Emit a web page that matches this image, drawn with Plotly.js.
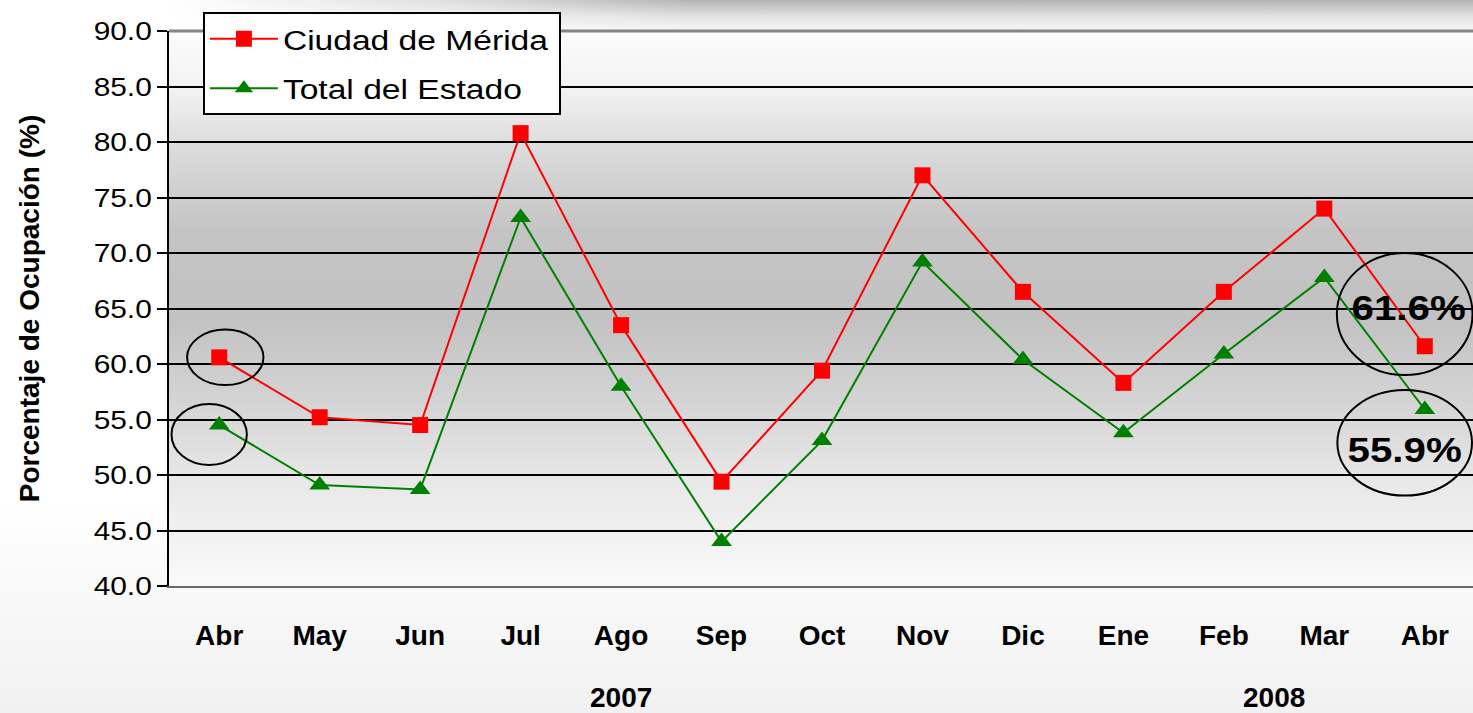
<!DOCTYPE html>
<html>
<head>
<meta charset="utf-8">
<script src="https://cdn.plot.ly/plotly-3.0.1.min.js"></script>
<style>
  html, body { margin: 0; padding: 0; }
  body { width: 1473px; height: 713px; overflow: hidden;
         background: linear-gradient(to bottom, #ffffff 0%, #ffffff 70%, #f1f1f1 100%); }
  #chart { width: 1473px; height: 713px; }
</style>
</head>
<body>
<div id="chart"></div>
<script>
// ---- data ----
const months = ['Abr', 'May', 'Jun', 'Jul', 'Ago', 'Sep', 'Oct', 'Nov', 'Dic', 'Ene', 'Feb', 'Mar', 'Abr'];
const merida = [60.6, 55.2, 54.5, 80.8, 63.5, 49.4, 59.4, 77.0, 66.5, 58.3, 66.5, 74.0, 61.6];
const estado = [54.5, 49.1, 48.7, 73.2, 58.0, 44.0, 53.1, 69.2, 60.4, 53.8, 60.9, 67.8, 55.9];
const seriesNames = ['Ciudad de Mérida', 'Total del Estado'];
const yearLabels = ['2007', '2008'];
const yTicks = [40, 45, 50, 55, 60, 65, 70, 75, 80, 85, 90];
const sourceText = 'Fuente: DataTur';

const xIdx = months.map((_, i) => i);
const last = months.length - 1;

function svgUri(svg) { return 'data:image/svg+xml;charset=utf-8,' + encodeURIComponent(svg); }

const plotGrad = svgUri(
  "<svg xmlns='http://www.w3.org/2000/svg' width='100' height='100' viewBox='0 0 100 100' preserveAspectRatio='none'>" +
  "<defs><linearGradient id='g' x1='0' y1='0' x2='0' y2='1'>" +
  "<stop offset='0' stop-color='#fcfcfc'/>" +
  "<stop offset='0.10' stop-color='#f3f3f3'/>" +
  "<stop offset='0.22' stop-color='#dadada'/>" +
  "<stop offset='0.36' stop-color='#c4c4c4'/>" +
  "<stop offset='0.52' stop-color='#c2c2c2'/>" +
  "<stop offset='0.66' stop-color='#d3d3d3'/>" +
  "<stop offset='0.82' stop-color='#e9e9e9'/>" +
  "<stop offset='1' stop-color='#fafafa'/>" +
  "</linearGradient></defs><rect width='100' height='100' fill='url(#g)'/></svg>");

const topGrad = svgUri(
  "<svg xmlns='http://www.w3.org/2000/svg' width='100' height='100' viewBox='0 0 100 100' preserveAspectRatio='none'>" +
  "<defs><linearGradient id='v' x1='0' y1='0' x2='0' y2='1'>" +
  "<stop offset='0' stop-color='#b4b4b4'/><stop offset='0.55' stop-color='#e2e2e2'/><stop offset='1' stop-color='#f6f6f6'/>" +
  "</linearGradient><linearGradient id='h' x1='0' y1='0' x2='1' y2='0'>" +
  "<stop offset='0' stop-color='#ffffff' stop-opacity='1'/><stop offset='0.22' stop-color='#ffffff' stop-opacity='0.55'/><stop offset='0.4' stop-color='#ffffff' stop-opacity='0'/>" +
  "</linearGradient></defs><rect width='100' height='100' fill='url(#v)'/><rect width='100' height='100' fill='url(#h)'/></svg>");

const red = '#ff0000';
const green = '#008000';
const FONT = 'Liberation Sans, Arial, sans-serif';

const traces = [
  {
    x: xIdx, y: merida, name: seriesNames[0], type: 'scatter', mode: 'lines+markers',
    line: { color: red, width: 2 },
    marker: { symbol: 'square', size: 16, color: red },
    legendgroup: 'a'
  },
  {
    x: xIdx, y: estado, name: seriesNames[1], type: 'scatter', mode: 'lines+markers',
    line: { color: green, width: 2 },
    marker: { symbol: 'triangle-up', size: 18, color: green },
    legendgroup: 'b'
  }
];

const ell = (cx, cy, rx, ry) => ({
  type: 'circle', xref: 'x', yref: 'y', layer: 'above',
  x0: cx - rx, x1: cx + rx, y0: cy - ry, y1: cy + ry,
  line: { color: '#000000', width: 2 }, fillcolor: 'rgba(0,0,0,0)'
});

const pctFont = { size: 35, family: FONT, weight: 'bold', color: '#000000' };
const yearFont = { size: 28, family: FONT, weight: 'bold', color: '#000000' };

const layout = {
  width: 1473, height: 713,
  margin: { l: 169, r: 0, t: 31, b: 127 },
  paper_bgcolor: 'rgba(0,0,0,0)',
  plot_bgcolor: 'rgba(0,0,0,0)',
  font: { family: FONT, color: '#000000' },
  showlegend: true,
  legend: {
    x: 0.026, y: 1.034, xanchor: 'left', yanchor: 'top',
    bgcolor: '#ffffff', bordercolor: '#000000', borderwidth: 2,
    font: { size: 28, family: FONT, color: '#000000' },
    itemwidth: 68, traceorder: 'grouped', tracegroupgap: 10
  },
  xaxis: {
    range: [-0.5, 12.48], tickmode: 'array', tickvals: xIdx, ticktext: months,
    showgrid: false, zeroline: false, showline: true, linecolor: '#6a6a6a', linewidth: 2,
    ticks: '', ticklabelstandoff: 23,
    tickfont: { size: 28, family: FONT, weight: 'bold', color: '#000000' },
    fixedrange: true
  },
  yaxis: {
    range: [40, 90], tickmode: 'array', tickvals: yTicks, ticktext: yTicks.map(v => v.toFixed(1)),
    showgrid: true, gridcolor: '#000000', gridwidth: 2, zeroline: false,
    showline: true, linecolor: '#000000', linewidth: 2,
    ticks: 'outside', ticklen: 10, tickwidth: 2, tickcolor: '#000000',
    tickfont: { size: 26, family: FONT, color: '#000000' },
    title: { text: 'Porcentaje de Ocupación (%)', standoff: 53,
             font: { size: 28, family: FONT, weight: 'bold', color: '#000000' } },
    fixedrange: true
  },
  images: [
    { source: plotGrad, xref: 'paper', yref: 'paper', x: 0, y: 1, sizex: 1, sizey: 1,
      xanchor: 'left', yanchor: 'top', sizing: 'stretch', layer: 'below' },
    { source: topGrad, xref: 'paper', yref: 'paper', x: 0, y: 1 + 31 / 555, sizex: 1, sizey: 30 / 555,
      xanchor: 'left', yanchor: 'top', sizing: 'stretch', layer: 'below' }
  ],
  shapes: [
    { type: 'line', xref: 'paper', yref: 'paper', x0: 0, x1: 1, y0: 1, y1: 1,
      line: { color: '#858585', width: 3 }, layer: 'above' },
    ell(0.06, merida[0], 0.38, 2.5),
    ell(-0.1, estado[0] - 0.85, 0.375, 2.75),
    ell(last - 0.2, merida[last] + 2.9, 0.675, 5.5),
    ell(last - 0.2, estado[last] - 3.0, 0.67, 4.75)
  ],
  annotations: [
    { text: merida[last].toFixed(1) + '%', xref: 'x', yref: 'y', x: last - 0.16, y: merida[last] + 3.45,
      showarrow: false, xanchor: 'center', yanchor: 'middle', font: pctFont },
    { text: estado[last].toFixed(1) + '%', xref: 'x', yref: 'y', x: last - 0.2, y: estado[last] - 3.6,
      showarrow: false, xanchor: 'center', yanchor: 'middle', font: pctFont },
    { text: yearLabels[0], xref: 'x', yref: 'paper', x: 4, y: -0.2,
      showarrow: false, xanchor: 'center', yanchor: 'middle', font: yearFont },
    { text: yearLabels[1], xref: 'x', yref: 'paper', x: 10.5, y: -0.2,
      showarrow: false, xanchor: 'center', yanchor: 'middle', font: yearFont },
    { text: sourceText, xref: 'paper', yref: 'paper', x: -0.005, y: -0.218,
      showarrow: false, xanchor: 'left', yanchor: 'top',
      font: { size: 24, family: FONT, color: '#000000' } }
  ]
};

// horizontally widen text glyphs (the reference text is drawn wider than the font)
function stretchText(nodes, s) {
  let maxW = 0;
  nodes.forEach(t => {
    const bb = t.getBBox();
    maxW = Math.max(maxW, bb.width);
    const anchor = t.getAttribute('text-anchor') || 'start';
    const ax = anchor === 'end' ? bb.x + bb.width : (anchor === 'middle' ? bb.x + bb.width / 2 : bb.x);
    const prev = t.getAttribute('transform') || '';
    t.setAttribute('transform', prev + ' translate(' + ax + ',0) scale(' + s + ',1) translate(' + (-ax) + ',0)');
  });
  return maxW;
}

Plotly.newPlot('chart', traces, layout, { displayModeBar: false, staticPlot: true }).then(gd => {
  stretchText(Array.from(gd.querySelectorAll('g.ytick text')), 1.15);
  const pct = Array.from(gd.querySelectorAll('g.annotation')).slice(0, 2)
    .map(g => g.querySelector('text')).filter(Boolean);
  stretchText(pct, 1.15);
  const s = 1.2;
  const w = stretchText(Array.from(gd.querySelectorAll('g.legend text.legendtext')), s);
  const extra = w * (s - 1) + 5;
  gd.querySelectorAll('g.legend rect.bg').forEach(r => {
    r.setAttribute('width', parseFloat(r.getAttribute('width')) + extra);
  });
  gd.querySelectorAll('clipPath[id^="legend"] rect').forEach(r => {
    r.setAttribute('width', parseFloat(r.getAttribute('width')) + extra);
  });
});
</script>
</body>
</html>
